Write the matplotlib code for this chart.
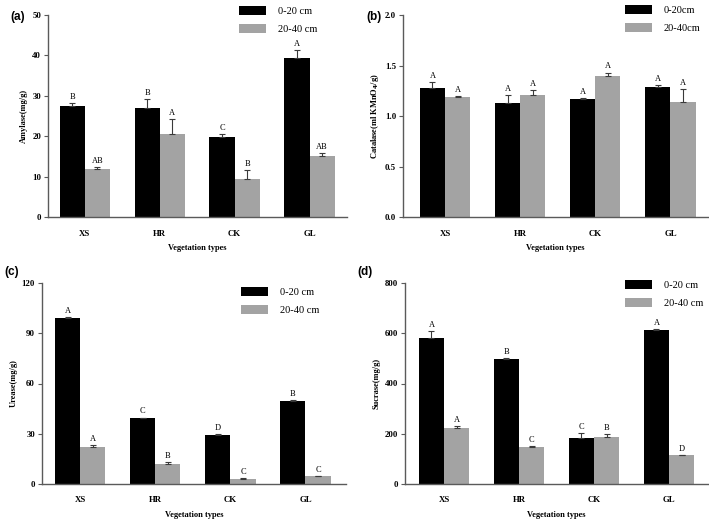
import numpy as np
import matplotlib
matplotlib.use('Agg')
import matplotlib.pyplot as plt
from matplotlib.patches import Patch

plt.rcParams['font.family'] = ['Liberation Serif', 'DejaVu Serif']

# data
veg_types = ['XS', 'HR', 'CK', 'GL']

amylase_top = [27.4, 26.9, 19.7, 39.3]
amylase_top_err = [0.9, 2.4, 0.8, 2.1]
amylase_sub = [11.8, 20.5, 9.3, 15.0]
amylase_sub_err = [0.6, 3.8, 2.4, 0.9]
amylase_top_let = ['B', 'B', 'C', 'A']
amylase_sub_let = ['AB', 'A', 'B', 'AB']

catalase_top = [1.28, 1.13, 1.165, 1.29]
catalase_top_err = [0.06, 0.08, 0.012, 0.02]
catalase_sub = [1.19, 1.21, 1.40, 1.14]
catalase_sub_err = [0.007, 0.045, 0.03, 0.126]
catalase_top_let = ['A', 'A', 'A', 'A']
catalase_sub_let = ['A', 'A', 'A', 'A']

urease_top = [99.0, 39.3, 29.3, 49.8]
urease_top_err = [0.9, 0.4, 0.3, 0.3]
urease_sub = [22.2, 11.7, 3.2, 4.6]
urease_sub_err = [1.0, 1.2, 0.4, 0.4]
urease_top_let = ['A', 'C', 'D', 'B']
urease_sub_let = ['A', 'B', 'C', 'C']

sucrase_top = [582, 496, 185, 611]
sucrase_top_err = [28, 6, 18, 6]
sucrase_sub = [222, 147, 187, 114]
sucrase_sub_err = [7, 3, 13, 3]
sucrase_top_let = ['A', 'B', 'C', 'A']
sucrase_sub_let = ['A', 'C', 'B', 'D']

black = '#000000'
grey = '#a3a3a3'
spine_col = '#5a5a5a'

fig = plt.figure(figsize=(7.09, 5.2), dpi=100)


def panel(rect, top, top_err, sub, sub_err, top_let, sub_let, ymax, ystep,
          ylabel, tag, tag_xy, legend_labels, legend_anchor, xlim, fmt):
    ax = fig.add_axes(rect)
    x = np.arange(len(veg_types))
    w = 0.335
    ekw = dict(ecolor='#3a3a3a', elinewidth=0.8, capsize=2.5, capthick=0.8)
    ax.bar(x - w / 2, top, w, color=black,
           yerr=[np.zeros(4), top_err], error_kw=ekw)
    ax.bar(x + w / 2, sub, w, color=grey,
           yerr=[np.zeros(4), sub_err], error_kw=ekw)
    for i in range(4):
        ax.annotate(top_let[i], (x[i] - w / 2, top[i] + top_err[i]),
                    xytext=(0, 1.5), textcoords='offset points',
                    ha='center', va='bottom', fontsize=6)
        ax.annotate(sub_let[i], (x[i] + w / 2, sub[i] + sub_err[i]),
                    xytext=(0, 1.5), textcoords='offset points',
                    ha='center', va='bottom', fontsize=6)
    ax.set_xlim(*xlim)
    ax.set_ylim(0, ymax)
    yt = np.arange(0, ymax + ystep / 2, ystep)
    ax.set_yticks(yt)
    ax.set_yticklabels([fmt.format(v) for v in yt])
    ax.set_xticks(x)
    ax.set_xticklabels(veg_types, fontweight='bold', fontsize=6.3)
    for lab in ax.get_yticklabels():
        lab.set_fontweight('bold')
        lab.set_fontsize(6.3)
    ax.tick_params(axis='x', length=0, pad=9)
    ax.tick_params(axis='y', length=3, width=0.8, color=spine_col, pad=2)
    for s in ['top', 'right']:
        ax.spines[s].set_visible(False)
    for s in ['left', 'bottom']:
        ax.spines[s].set_color(spine_col)
        ax.spines[s].set_linewidth(1.0)
    ax.set_xlabel('Vegetation types', fontweight='bold', fontsize=6, labelpad=5)
    ax.set_ylabel(ylabel, fontweight='bold', fontsize=6, labelpad=3)
    fig.text(tag_xy[0], tag_xy[1], tag, fontsize=8.5, fontweight='bold',
             family=['Liberation Sans', 'DejaVu Sans'], ha='left', va='center')
    handles = [Patch(facecolor=black), Patch(facecolor=grey)]
    fig.legend(handles, legend_labels, loc='upper left',
               bbox_to_anchor=legend_anchor, frameon=False, fontsize=7.5,
               handlelength=2.6, handleheight=0.9, handletextpad=1.1,
               labelspacing=0.75, borderpad=0)
    return ax


panel([48 / 709, 1 - 217 / 520, 299 / 709, 202 / 520],
      amylase_top, amylase_top_err, amylase_sub, amylase_sub_err,
      amylase_top_let, amylase_sub_let, 50, 10, 'Amylase(mg/g)', '(a)',
      (10 / 709, 1 - 17 / 520), ['0-20 cm', '20-40 cm'],
      (234 / 709, 1 - 1 / 520), (-0.49, 3.5), '{:.0f}')

panel([403 / 709, 1 - 217 / 520, 305 / 709, 202 / 520],
      catalase_top, catalase_top_err, catalase_sub, catalase_sub_err,
      catalase_top_let, catalase_sub_let, 2.0, 0.5,
      r'Catalase(ml KMnO$_\mathbf{4}$/g)', '(b)',
      (366 / 709, 1 - 17 / 520), ['0-20cm', '20-40cm'],
      (620 / 709, 1 - 0 / 520), (-0.56, 3.5), '{:.1f}')

panel([42 / 709, 1 - 484 / 520, 304 / 709, 201 / 520],
      urease_top, urease_top_err, urease_sub, urease_sub_err,
      urease_top_let, urease_sub_let, 120, 30, 'Urease(mg/g)', '(c)',
      (4 / 709, 1 - 272 / 520), ['0-20 cm', '20-40 cm'],
      (236 / 709, 1 - 282 / 520), (-0.51, 3.54), '{:.0f}')

panel([405 / 709, 1 - 484 / 520, 303 / 709, 201 / 520],
      sucrase_top, sucrase_top_err, sucrase_sub, sucrase_sub_err,
      sucrase_top_let, sucrase_sub_let, 800, 200, 'Sucrase(mg/g)', '(d)',
      (357 / 709, 1 - 272 / 520), ['0-20 cm', '20-40 cm'],
      (620 / 709, 1 - 275 / 520), (-0.52, 3.52), '{:.0f}')

fig.savefig('out.png', dpi=100)
